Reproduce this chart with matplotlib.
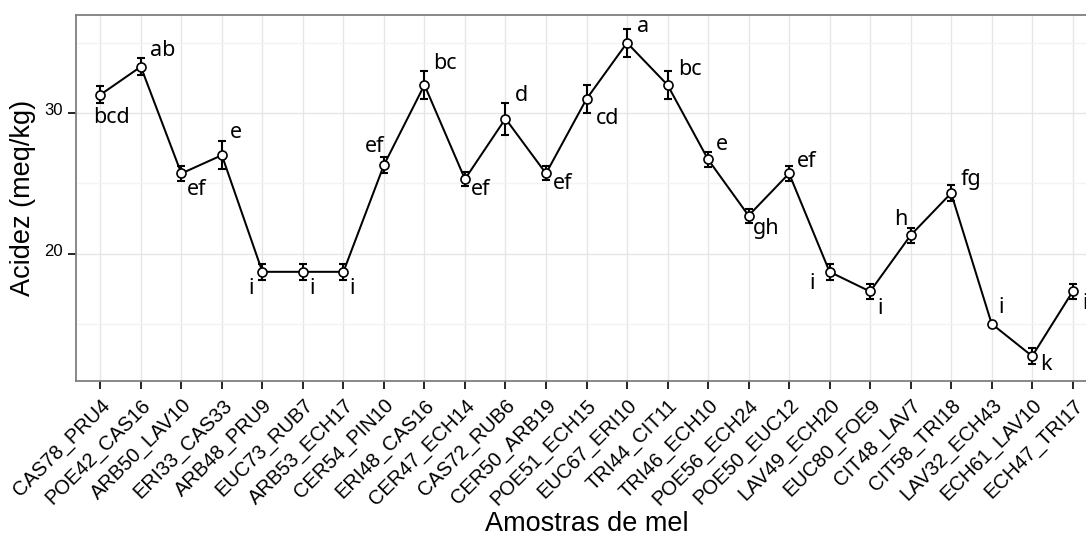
import matplotlib.pyplot as plt
from matplotlib.transforms import ScaledTranslation

# amostras de mel e acidez livre (meq/kg)
samples = ["CAS78_PRU4", "POE42_CAS16", "ARB50_LAV10", "ERI33_CAS33", "ARB48_PRU9",
           "EUC73_RUB7", "ARB53_ECH17", "CER54_PIN10", "ERI48_CAS16", "CER47_ECH14",
           "CAS72_RUB6", "CER50_ARB19", "POE51_ECH15", "EUC67_ERI10", "TRI44_CIT11",
           "TRI46_ECH10", "POE56_ECH24", "POE50_EUC12", "LAV49_ECH20", "EUC80_FOE9",
           "CIT48_LAV7", "CIT58_TRI18", "LAV32_ECH43", "ECH61_LAV10", "ECH47_TRI17"]
acidez = [31.3, 33.3, 25.7, 27.0, 18.7, 18.7, 18.7, 26.3, 32.0, 25.3,
          29.6, 25.7, 31.0, 35.0, 32.0, 26.7, 22.7, 25.7, 18.7, 17.3,
          21.3, 24.3, 15.0, 12.7, 17.3]
erro = [0.6, 0.6, 0.55, 1.0, 0.55, 0.55, 0.55, 0.55, 1.0, 0.5,
        1.15, 0.5, 1.0, 1.0, 1.0, 0.55, 0.5, 0.55, 0.55, 0.5,
        0.55, 0.55, 0.0, 0.55, 0.55]
letras = ["bcd", "ab", "ef", "e", "i", "i", "i", "ef", "bc", "ef",
          "d", "ef", "cd", "a", "bc", "e", "gh", "ef", "i", "i",
          "h", "fg", "i", "k", "i"]

# deslocamento das letras (pixels)
offsets = [(11, -23), (22, 16), (15, -16), (14, 23), (-11, -17), (9, -17), (9, -17),
           (-9, 19), (20, 21), (16, -10), (16, 23), (17, -10), (21, -19), (16, 16),
           (22, 15), (14, 15), (18, -13), (18, 12), (-17, -12), (10, -17), (-10, 16),
           (20, 14), (9, 16), (14, -8), (12, -12)]

plt.rcParams['font.family'] = ['Liberation Sans', 'DejaVu Sans']

fig = plt.figure(figsize=(10.86, 5.41), dpi=100)
ax = fig.add_axes([76 / 1086, 1 - 381 / 541, 1021 / 1086, (381 - 14.7) / 541])

x = list(range(len(samples)))
ax.errorbar(x, acidez, yerr=erro, fmt='none', ecolor='black', elinewidth=1.5,
            capsize=3, capthick=1.5, zorder=3)
ax.plot(x, acidez, color='black', lw=1.45, marker='o', markersize=6.5,
        markerfacecolor='white', markeredgecolor='black', markeredgewidth=1.2, zorder=4)

for xi, yi, lab, (dx, dy) in zip(x, acidez, letras, offsets):
    ax.annotate(lab, (xi, yi), xytext=(dx, dy), textcoords='offset pixels',
                ha='center', va='center', fontsize=15.5, family=['Noto Sans', 'DejaVu Sans'])

ax.set_xlim(-0.6, 24.6)
ax.set_ylim(10.93, 37.0)
ax.set_xticks(x)
ax.set_xticklabels(samples, rotation=45, ha='right', va='center', rotation_mode='anchor',
                   fontsize=14.5)
ax.set_yticks([20, 30])
ax.set_yticks([15, 25, 35], minor=True)
ax.tick_params(axis='both', which='major', direction='out', length=5.8, width=1.2,
               color='black', labelsize=12, pad=4)
ax.tick_params(axis='x', labelsize=14.5, pad=6)
ax.tick_params(axis='y', which='minor', length=0)
for lab in ax.get_yticklabels():
    lab.set_transform(lab.get_transform() + ScaledTranslation(0, 4 / 100, fig.dpi_scale_trans))
for lab in ax.get_xticklabels():
    lab.set_transform(lab.get_transform() + ScaledTranslation(7 / 100, -5 / 100, fig.dpi_scale_trans))

ax.grid(True, which='major', color='#e6e6e6', lw=1.0)
ax.grid(True, which='minor', axis='y', color='#f3f3f3', lw=1.0)
ax.set_axisbelow(True)
for s in ax.spines.values():
    s.set_color('#7f7f7f')
    s.set_linewidth(1.3)

ax.set_ylabel("Acidez (meq/kg)", fontsize=19.5)
ax.set_xlabel("Amostras de mel", fontsize=19.5)
ax.yaxis.set_label_coords(-0.039, 0.5)
ax.xaxis.set_label_coords(0.5, -0.355)

fig.savefig("out.png", dpi=100)
